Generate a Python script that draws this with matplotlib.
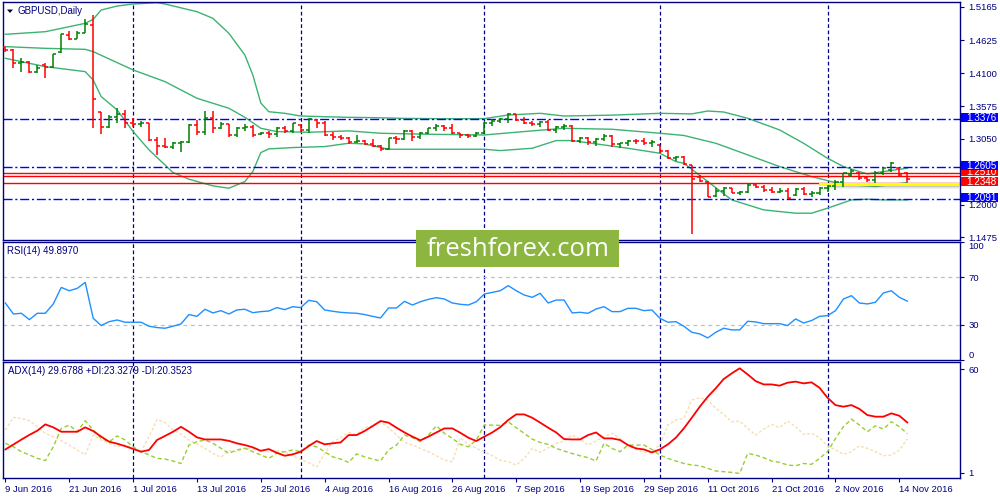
import numpy as np
import pandas as pd
import matplotlib
matplotlib.use("Agg")
import matplotlib.pyplot as plt
from matplotlib.patches import Rectangle, Polygon
from matplotlib.transforms import blended_transform_factory

# GBPUSD daily bars, 9 Jun 2016 .. 15 Nov 2016
dates = pd.bdate_range("2016-06-09", "2016-11-15")

opens = [1.4520, 1.4470, 1.4270, 1.4286, 1.4126, 1.4230, 1.4200, 1.4440, 1.4720, 1.4650,
         1.4745, 1.4880, 1.3480, 1.3247, 1.3407, 1.3449, 1.3311, 1.3284, 1.3300, 1.3034,
         1.2943, 1.2927, 1.2980, 1.3007, 1.3273, 1.3167, 1.3380, 1.3220, 1.3289, 1.3113,
         1.3220, 1.3247, 1.3125, 1.3151, 1.3130, 1.3231, 1.3183, 1.3270, 1.3194, 1.3360,
         1.3311, 1.3113, 1.3087, 1.3060, 1.3005, 1.3012, 1.2970, 1.2943, 1.2884, 1.3060,
         1.3044, 1.3177, 1.3087, 1.3140, 1.3220, 1.3257, 1.3220, 1.3140, 1.3113, 1.3097,
         1.3151, 1.3311, 1.3343, 1.3364, 1.3444, 1.3353, 1.3311, 1.3289, 1.3327, 1.3193,
         1.3236, 1.3257, 1.3018, 1.3060, 1.3007, 1.3044, 1.3097, 1.2970, 1.2980, 1.3023,
         1.3018, 1.2985, 1.2950, 1.2858, 1.2740, 1.2767, 1.2634, 1.2440, 1.2367, 1.2140,
         1.2223, 1.2261, 1.2191, 1.2207, 1.2314, 1.2287, 1.2234, 1.2207, 1.2223, 1.2150,
         1.2245, 1.2170, 1.2191, 1.2261, 1.2298, 1.2367, 1.2474, 1.2511, 1.2421, 1.2394,
         1.2500, 1.2550, 1.2590, 1.2500]
highs = [1.4526, 1.4483, 1.4339, 1.4290, 1.4233, 1.4259, 1.4409, 1.4730, 1.4782, 1.4782,
         1.4968, 1.5032, 1.3487, 1.3433, 1.3540, 1.3513, 1.3380, 1.3343, 1.3310, 1.3076,
         1.3060, 1.3007, 1.3023, 1.3289, 1.3353, 1.3497, 1.3497, 1.3327, 1.3295, 1.3247,
         1.3289, 1.3273, 1.3167, 1.3177, 1.3247, 1.3257, 1.3311, 1.3280, 1.3380, 1.3364,
         1.3343, 1.3167, 1.3113, 1.3076, 1.3113, 1.3034, 1.3044, 1.2954, 1.3071, 1.3097,
         1.3193, 1.3193, 1.3167, 1.3231, 1.3289, 1.3273, 1.3289, 1.3151, 1.3130, 1.3167,
         1.3327, 1.3364, 1.3380, 1.3460, 1.3449, 1.3396, 1.3343, 1.3343, 1.3353, 1.3257,
         1.3289, 1.3265, 1.3087, 1.3087, 1.3060, 1.3130, 1.3105, 1.2991, 1.3034, 1.3044,
         1.3060, 1.3034, 1.2958, 1.2874, 1.2778, 1.2778, 1.2640, 1.2474, 1.2372, 1.2261,
         1.2277, 1.2265, 1.2223, 1.2330, 1.2351, 1.2314, 1.2277, 1.2261, 1.2261, 1.2261,
         1.2277, 1.2223, 1.2277, 1.2314, 1.2394, 1.2511, 1.2564, 1.2520, 1.2458, 1.2543,
         1.2597, 1.2687, 1.2607, 1.2527]
lows = [1.4446, 1.4190, 1.4126, 1.4099, 1.4099, 1.4020, 1.4190, 1.4430, 1.4632, 1.4648,
        1.4739, 1.3231, 1.3124, 1.3220, 1.3300, 1.3220, 1.3247, 1.3247, 1.3023, 1.2794,
        1.2900, 1.2890, 1.2847, 1.2980, 1.3113, 1.3113, 1.3140, 1.3204, 1.3087, 1.3076,
        1.3183, 1.3087, 1.3113, 1.3060, 1.3076, 1.3140, 1.3151, 1.3167, 1.3151, 1.3220,
        1.3097, 1.3034, 1.3034, 1.2970, 1.2991, 1.2954, 1.2927, 1.2863, 1.2875, 1.2970,
        1.3035, 1.3023, 1.3044, 1.3130, 1.3177, 1.3183, 1.3130, 1.3060, 1.3060, 1.3076,
        1.3130, 1.3257, 1.3300, 1.3300, 1.3343, 1.3289, 1.3257, 1.3236, 1.3177, 1.3140,
        1.3193, 1.3007, 1.2991, 1.2948, 1.2938, 1.3023, 1.2916, 1.2900, 1.2938, 1.2970,
        1.2954, 1.2927, 1.2831, 1.2725, 1.2703, 1.2634, 1.1525, 1.2367, 1.2117, 1.2128,
        1.2138, 1.2181, 1.2154, 1.2191, 1.2261, 1.2207, 1.2191, 1.2191, 1.2085, 1.2138,
        1.2154, 1.2117, 1.2154, 1.2207, 1.2234, 1.2287, 1.2447, 1.2394, 1.2367, 1.2351,
        1.2474, 1.2527, 1.2458, 1.2367]
closes = [1.4470, 1.4270, 1.4286, 1.4126, 1.4180, 1.4200, 1.4403, 1.4723, 1.4643, 1.4739,
          1.4888, 1.3684, 1.3247, 1.3407, 1.3449, 1.3311, 1.3284, 1.3300, 1.3034, 1.2943,
          1.2927, 1.2980, 1.3007, 1.3273, 1.3167, 1.3380, 1.3220, 1.3289, 1.3113, 1.3220,
          1.3247, 1.3113, 1.3151, 1.3130, 1.3231, 1.3183, 1.3300, 1.3194, 1.3364, 1.3311,
          1.3113, 1.3087, 1.3060, 1.3007, 1.3012, 1.2970, 1.2943, 1.2884, 1.3060, 1.3044,
          1.3177, 1.3087, 1.3140, 1.3220, 1.3257, 1.3220, 1.3140, 1.3113, 1.3097, 1.3151,
          1.3311, 1.3343, 1.3364, 1.3444, 1.3353, 1.3311, 1.3289, 1.3327, 1.3193, 1.3236,
          1.3257, 1.3018, 1.3060, 1.3007, 1.3044, 1.3097, 1.2970, 1.2980, 1.3023, 1.3018,
          1.2991, 1.2995, 1.2858, 1.2740, 1.2767, 1.2650, 1.2410, 1.2378, 1.2128, 1.2223,
          1.2261, 1.2191, 1.2207, 1.2314, 1.2287, 1.2234, 1.2207, 1.2223, 1.2101, 1.2245,
          1.2170, 1.2191, 1.2261, 1.2298, 1.2367, 1.2500, 1.2543, 1.2421, 1.2394, 1.2500,
          1.2581, 1.2661, 1.2474, 1.2410]

# Bollinger bands (20, 2), read at selected bars
bb_up_i = [0, 5, 10, 11, 12, 14, 16, 19, 20, 24, 26, 28, 30, 31, 32, 33, 35, 37, 40, 43,
           46, 50, 55, 60, 63, 67, 70, 76, 82, 86, 88, 90, 93, 97, 100, 103, 105, 107, 108, 110, 113]
bb_up = [1.4723, 1.4765, 1.4899, 1.4963, 1.5112, 1.5176, 1.5208, 1.5229, 1.5208, 1.5085,
         1.4979, 1.4739, 1.4392, 1.4072, 1.3624, 1.3485, 1.3459, 1.3416, 1.3405, 1.3395,
         1.3390, 1.3378, 1.3372, 1.3374, 1.3432, 1.3459, 1.3416, 1.3430, 1.3459, 1.3450,
         1.3496, 1.3480, 1.3380, 1.3193, 1.2980, 1.2740, 1.2607, 1.2527, 1.2490, 1.2527, 1.2581]
bb_mid_i = [0, 5, 10, 11, 16, 20, 24, 28, 30, 32, 34, 38, 43, 47, 53, 60, 66, 70, 76, 82,
            85, 89, 93, 97, 101, 104, 106, 109, 113]
bb_mid = [1.4526, 1.4499, 1.4483, 1.4446, 1.4153, 1.3966, 1.3700, 1.3540, 1.3396, 1.3220,
          1.3167, 1.3156, 1.3178, 1.3140, 1.3124, 1.3113, 1.3178, 1.3220, 1.3204, 1.3140,
          1.3105, 1.2980, 1.2794, 1.2607, 1.2447, 1.2351, 1.2314, 1.2287, 1.2351]
bb_low_i = [0, 5, 9, 10, 11, 12, 14, 16, 18, 21, 23, 26, 28, 30, 31, 32, 33, 36, 40, 43,
            45, 48, 60, 62, 66, 69, 71, 74, 78, 82, 84, 85, 88, 91, 95, 99, 101, 103, 106, 108, 110, 113]
bb_low = [1.4339, 1.4206, 1.4142, 1.4126, 1.3993, 1.3727, 1.3513, 1.3167, 1.2874, 1.2511,
          1.2405, 1.2298, 1.2261, 1.2367, 1.2527, 1.2831, 1.2890, 1.2911, 1.2927, 1.2980,
          1.2970, 1.2884, 1.2884, 1.2863, 1.2900, 1.3023, 1.3023, 1.2970, 1.2900, 1.2820,
          1.2687, 1.2661, 1.2367, 1.2074, 1.1914, 1.1861, 1.1861, 1.1941, 1.2074, 1.2085, 1.2074, 1.2074]

rsi = [48.3, 39, 39.6, 34.2, 39.6, 39.6, 47.5, 61.5, 58.7, 60.7,
       65.8, 35.4, 29.2, 32.5, 33.9, 32, 32, 32, 28.6, 27.5,
       26.9, 28.6, 30.6, 38.5, 37, 43, 39.9, 41.8, 39, 42.4,
       43, 40.1, 41, 41.5, 44.4, 42.7, 45.2, 44.4, 50.6, 49.4,
       42.4, 41.3, 40.4, 39.9, 39.6, 38.5, 37, 35.6, 44.1, 44.1,
       49.7, 46.6, 49.4, 51.4, 52.8, 51.7, 48.3, 47.2, 46.6, 49.4,
       55.9, 57.3, 58.7, 63, 58.7, 55.1, 53.1, 56.5, 48.3, 50.8,
       50.8, 39.9, 40.4, 39.6, 43.2, 45.2, 41, 41, 43.8, 43.8,
       41.8, 42.4, 35.4, 32, 32.5, 28.6, 23.5, 22.1, 18.7, 23.5,
       26.9, 25.5, 25.5, 32.8, 32.3, 30.8, 30.8, 30.8, 29.2, 34.8,
       31.4, 33.4, 37, 37.6, 41.8, 51.7, 54.5, 48.3, 47.5, 48.9,
       56.8, 58.7, 53.1, 49.9]

adx = [14.3, 17.1, 19.9, 22.6, 25.0, 28.6, 26.9, 24.4, 24.4, 24.4,
       26.9, 24.8, 21.6, 18.7, 17.6, 16.2, 14.6, 13.0, 14.0, 19.7,
       22.0, 24.4, 27.2, 24.4, 21.2, 20, 20, 20, 19.2, 17.8,
       16.8, 15.5, 13.5, 14.5, 12.4, 10.7, 11.5, 13, 16.2, 19.1,
       17.2, 17.8, 18.3, 22.5, 22.5, 24.8, 27.6, 30.5, 29.6, 26.7,
       24, 21.6, 19.5, 21.6, 24, 26.3, 26.3, 23.8, 21, 19.1,
       21.6, 24, 27, 31.1, 34.3, 34.3, 32.4, 29.6, 26.7, 24,
       20.2, 20, 20, 22.5, 24, 20.6, 20.6, 19.7, 16.8, 14.9,
       14.3, 12.6, 14.3, 17.2, 21, 26.3, 32.4, 38.7, 44.4, 49.2,
       54.5, 57.7, 60.6, 57.1, 53.3, 51.4, 51.4, 50.7, 52.4, 53,
       52, 52.6, 49.5, 43.8, 39.6, 38.7, 39.6, 37.4, 33.9, 33,
       33, 34.9, 33.5, 29.7]
plus_di = [17.8, 15.8, 13, 11.2, 9.2, 7.9, 15.8, 26.3, 28.2, 24.4,
           30.7, 25.4, 20.6, 18.7, 22, 19.7, 15.8, 13, 11.2, 9.2,
           8.8, 7.7, 6.3, 16.8, 18.7, 19.7, 17.8, 15, 12.1, 14,
           15, 13, 11.2, 9.2, 12.1, 13, 14, 13, 16.8, 15.8,
           13, 10.1, 8.8, 6.9, 11.7, 10.1, 8.8, 7.7, 14, 16.8,
           22.5, 21, 18.7, 22.5, 27.8, 23.5, 20.6, 17.2, 15.8, 19.7,
           28.2, 28.2, 28, 30.1, 26.7, 23.5, 20.2, 18.3, 17.2, 14.9,
           13.4, 12, 10.7, 9.6, 7.7, 17.8, 14.9, 13, 16.8, 16.8,
           16.8, 14.3, 11.1, 9.2, 7.7, 6.3, 5.4, 5, 3.5, 2,
           1.6, 1.2, 0.6, 12, 11.1, 9.6, 7.7, 6.9, 5.4, 5,
           6.3, 5.8, 9.2, 13, 20.6, 27.3, 31.6, 28.2, 24.4, 27.8,
           25.9, 30.1, 27.3, 23.3]
minus_di = [25.4, 32.6, 32, 30.7, 27.3, 23.5, 21.6, 19.3, 16.8, 14,
            11.2, 22.5, 19.7, 17.8, 15.8, 16.8, 15, 13, 21.6, 31.4,
            29.6, 25.4, 23.1, 19.7, 17.4, 15, 12.1, 9.8, 13.6, 13,
            15, 14.4, 14, 13, 13.6, 13, 10.5, 8.6, 6.7, 4.2,
            12.1, 18.7, 21, 24, 22.9, 26.7, 27.8, 30.1, 26.7, 22.5,
            18.3, 16.8, 14.9, 13, 10.7, 8.2, 7.3, 21, 17.2, 14.9,
            13, 10.7, 8.2, 7.3, 5.4, 9.2, 14.9, 12.6, 15.3, 17.8,
            19.1, 22.5, 20.2, 16.8, 19.1, 21.6, 23.5, 20.6, 16.4, 14.5,
            12.6, 12.6, 17.2, 28.2, 31.1, 32, 42.5, 43.8, 42.5, 37.7,
            34.3, 30.1, 30.5, 26.3, 22.5, 25.9, 28.6, 26.7, 30.5, 27.3,
            22.9, 23.5, 21, 16.4, 14, 11.5, 13, 16.4, 14.9, 13,
            10.7, 11.1, 14, 20.4]

# drawn objects on the price chart
blue_levels = [1.3376, 1.2605, 1.2091]
red_levels = [1.2510, 1.2450, 1.2348]
price_ticks = [1.1475, 1.2000, 1.2525, 1.3050, 1.3575, 1.4100, 1.4625, 1.5165]
band_start, band_top, band_bottom = "2016-10-31", 1.2346, 1.2298

NAVY = "#000080"
UP, DOWN = "#008000", "#ff0000"
FS = 6.8
plt.rcParams["font.family"] = ["Liberation Sans", "DejaVu Sans"]

x = np.arange(len(dates))
xmin, xmax = -0.3, 119.6

fig = plt.figure(figsize=(10, 5), dpi=100)


def pane(top, bottom, left=3, right=960):
    a = fig.add_axes([left / 1000, 1 - bottom / 500, (right - left) / 1000, (bottom - top) / 500])
    a.set_xlim(xmin, xmax)
    for s in a.spines.values():
        s.set_color(NAVY)
        s.set_linewidth(1.0)
    a.tick_params(axis="y", left=False, labelleft=False, right=True, labelright=True,
                  direction="out", length=3, width=0.8, color=NAVY, labelcolor=NAVY,
                  labelsize=FS, pad=3)
    a.tick_params(axis="x", bottom=False, labelbottom=False)
    return a


ax = pane(2, 240)
ax_rsi = pane(242, 360)
ax_adx = pane(362, 478)

# month separators
month_starts = [i for i in range(1, len(dates)) if dates[i].month != dates[i - 1].month]
for a in (ax, ax_rsi, ax_adx):
    for m in month_starts:
        a.axvline(m, color=NAVY, lw=0.9, ls=(0, (3, 2)), zorder=1)

# ---- price pane
ax.set_ylim(1.14322, 1.52402)
ax.set_yticks(price_ticks, [f"{v:.4f}" for v in price_ticks])
ppx = (1.52402 - 1.14322) / 238  # price per pixel

ax.plot(bb_up_i, bb_up, color="#3cb371", lw=1, zorder=2)
ax.plot(bb_mid_i, bb_mid, color="#3cb371", lw=1, zorder=2)
ax.plot(bb_low_i, bb_low, color="#3cb371", lw=1, zorder=2)

for lv in blue_levels:
    ax.axhline(lv, color="#0000ff", lw=1, ls=(0, (6.5, 2, 1.5, 2)), zorder=2)
for lv in red_levels:
    ax.axhline(lv, color="#ff0000", lw=1, zorder=2)

# yellow label band with soft shadow
b0 = dates.get_loc(pd.Timestamp(band_start)) - 0.1
for j, (c, al) in enumerate([("#808080", 0.45), ("#a0a0a0", 0.3), ("#c8c8c8", 0.25)]):
    ax.add_patch(Rectangle((b0 + 1, band_bottom - (j + 1) * 1.2 * ppx), xmax - b0 - 1.1, 1.2 * ppx,
                           fc=c, ec="none", alpha=al, zorder=2))
ax.add_patch(Rectangle((b0, band_bottom), xmax - b0, band_top - band_bottom,
                       fc="#ffff00", ec="none", zorder=2.5))

colors = [UP if c > o else DOWN for o, c in zip(opens, closes)]
ax.vlines(x, lows, highs, colors=colors, lw=1.1, zorder=3)
ax.hlines(opens, x - 0.38, x, colors=colors, lw=1.1, zorder=3)
ax.hlines(closes, x, x + 0.38, colors=colors, lw=1.1, zorder=3)

# price labels on the right scale
lbl_tr = blended_transform_factory(ax.transAxes, ax.transData)
w_ax = 957


def price_box(lv, color, z):
    yc = lv + 1.0 * ppx
    ax.add_patch(Rectangle((1 / w_ax + 1, yc - 4.6 * ppx), 37 / w_ax, 9.2 * ppx, transform=lbl_tr,
                           fc=color, ec="none", zorder=z, clip_on=False))
    ax.text(1 + 6 / w_ax, yc, f"{lv:.4f}", transform=lbl_tr, ha="left", va="center",
            color="white", fontsize=FS + 0.3, zorder=z + 0.1, clip_on=False)


price_box(red_levels[0], "#ff0000", 5)
price_box(blue_levels[0], "#0000ff", 6)
price_box(blue_levels[1], "#0000ff", 6)
price_box(red_levels[2], "#ff0000", 7)
price_box(blue_levels[2], "#0000ff", 6)

# ---- RSI pane
ax_rsi.set_ylim(0, 100)
ax_rsi.set_yticks([0, 30, 70, 100], ["0", "30", "70", "100"])
labs = ax_rsi.get_yticklabels()
labs[0].set_va("bottom")
labs[3].set_va("top")
for lv in (30, 70):
    ax_rsi.axhline(lv, color="#c0c0c0", lw=0.9, ls=(0, (3, 3)), zorder=1)
ax_rsi.plot(x, rsi, color="#1e90ff", lw=1, zorder=3)

# ---- ADX pane
ax_adx.set_ylim(-2.0, 64.2)
ax_adx.set_yticks([1, 60], ["1", "60"])
ax_adx.plot(x, minus_di, color="#f5deb3", lw=1, ls=(0, (2, 1.5)), zorder=2)
ax_adx.plot(x, plus_di, color="#9acd32", lw=1, ls=(0, (3, 2)), zorder=2)
ax_adx.plot(x, adx, color="#ff0000", lw=1.3, zorder=3)

tick_idx = x[::8]
ax_adx.set_xticks(tick_idx, [f"{dates[i].day} {dates[i]:%b %Y}" for i in tick_idx])
ax_adx.tick_params(axis="x", bottom=True, labelbottom=True, direction="out", length=3,
                   width=0.8, color=NAVY, labelcolor=NAVY, labelsize=FS, pad=2)
for t in ax_adx.get_xticklabels():
    t.set_ha("left")

# ---- header texts
fig.add_artist(Polygon([[7 / 1000, 1 - 9.5 / 500], [13 / 1000, 1 - 9.5 / 500], [10 / 1000, 1 - 13 / 500]],
                       closed=True, transform=fig.transFigure, fc="#000040", ec="none", zorder=5))
fig.text(18 / 1000, 1 - 11 / 500, "GBPUSD,Daily", color=NAVY, fontsize=7, va="center")
fig.text(7 / 1000, 1 - 251 / 500, "RSI(14) 49.8970", color=NAVY, fontsize=7, va="center")
fig.text(8 / 1000, 1 - 371 / 500, "ADX(14) 29.6788 +DI:23.3279 -DI:20.3523", color=NAVY,
         fontsize=7, va="center")

# ---- watermark
fig.add_artist(Rectangle((416 / 1000, 1 - 267 / 500), 203 / 1000, 37 / 500,
                         transform=fig.transFigure, fc="#8db641", ec="none", zorder=10))
fig.text(518 / 1000, 1 - 249 / 500, "freshforex.com", ha="center", va="center", color="white",
         fontsize=18.5, family=["Open Sans", "DejaVu Sans"], zorder=11)

fig.savefig("out.png", dpi=100, facecolor="white")
